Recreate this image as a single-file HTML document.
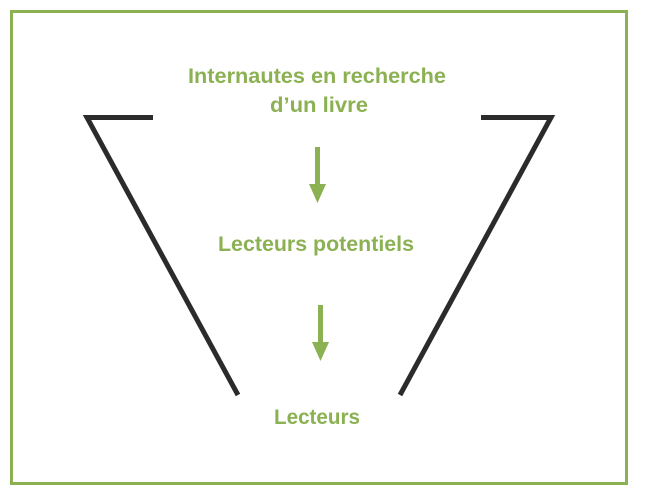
<!DOCTYPE html>
<html><head><meta charset="utf-8"><style>
html,body{margin:0;padding:0;background:#fff;width:645px;height:499px;overflow:hidden}
svg{display:block}
text{font-family:"Liberation Sans",sans-serif;font-weight:bold;fill:#8cb153;font-size:21.5px}
</style></head><body>
<svg width="645" height="499" viewBox="0 0 645 499">
<rect x="11.5" y="11.5" width="615" height="472" fill="none" stroke="#8cb153" stroke-width="3"/>
<polyline points="153,117.5 87,117.5 238,395" fill="none" stroke="#2b2b2b" stroke-width="5"/>
<polyline points="481,117.5 551,117.5 400,395" fill="none" stroke="#2b2b2b" stroke-width="5"/>
<rect x="315" y="147" width="5" height="38" fill="#8cb153"/>
<polygon points="309,184 326,184 317.5,203" fill="#8cb153"/>
<rect x="318" y="305" width="5" height="38" fill="#8cb153"/>
<polygon points="312,342 329,342 320.5,361" fill="#8cb153"/>
<text x="317" y="83" text-anchor="middle" textLength="258" lengthAdjust="spacingAndGlyphs">Internautes en recherche</text>
<text x="319" y="112" text-anchor="middle" textLength="98" lengthAdjust="spacingAndGlyphs">d’un livre</text>
<text x="316" y="251" text-anchor="middle" textLength="196" lengthAdjust="spacingAndGlyphs">Lecteurs potentiels</text>
<text x="317" y="424" text-anchor="middle" textLength="86" lengthAdjust="spacingAndGlyphs">Lecteurs</text>
</svg>
</body></html>
